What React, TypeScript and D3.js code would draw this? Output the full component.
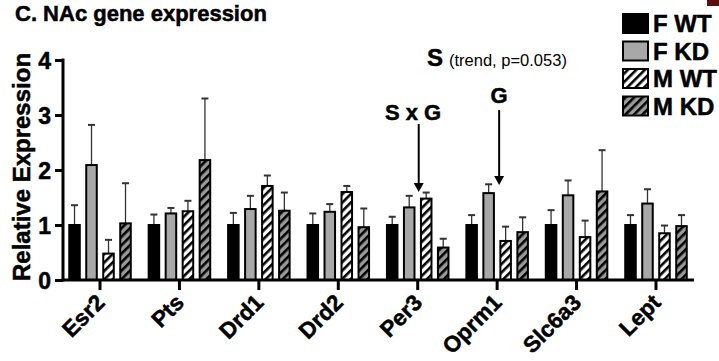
import React, { useEffect, useRef } from 'react';
import * as d3 from 'd3';

const genes = ['Esr2', 'Pts', 'Drd1', 'Drd2', 'Per3', 'Oprm1', 'Slc6a3', 'Lept'];
const groups = ['F WT', 'F KD', 'M WT', 'M KD'];

// mean and upper error bar end per group, in gene order
const fwtMean = [1.0, 1.0, 1.0, 1.0, 1.0, 1.0, 1.0, 1.0];
const fwtTop = [1.36, 1.19, 1.22, 1.21, 1.15, 1.18, 1.27, 1.18];
const fkdMean = [2.09, 1.21, 1.29, 1.24, 1.32, 1.58, 1.54, 1.39];
const fkdTop = [2.82, 1.31, 1.53, 1.38, 1.53, 1.74, 1.81, 1.65];
const mwtMean = [0.48, 1.25, 1.71, 1.6, 1.48, 0.71, 0.78, 0.85];
const mwtTop = [0.73, 1.44, 1.9, 1.71, 1.59, 0.97, 1.08, 0.99];
const mkdMean = [1.03, 2.18, 1.26, 0.96, 0.59, 0.87, 1.61, 0.98];
const mkdTop = [1.76, 3.3, 1.59, 1.3, 0.75, 1.14, 2.36, 1.18];

const yTicks = [0, 1, 2, 3, 4];

const FONT = '"Liberation Sans", Arial, Helvetica, sans-serif';

interface Cell {
  gene: string;
  group: string;
  mean: number;
  top: number;
}

const App: React.FC = () => {
  const svgRef = useRef<SVGSVGElement>(null);

  useEffect(() => {
    if (!svgRef.current) return;
    const svg = d3.select(svgRef.current);
    svg.selectAll('*').remove();

    const means = [fwtMean, fkdMean, mwtMean, mkdMean];
    const tops = [fwtTop, fkdTop, mwtTop, mkdTop];
    const cells: Cell[] = [];
    genes.forEach((g, i) => {
      groups.forEach((s, j) => {
        cells.push({ gene: g, group: s, mean: means[j][i], top: tops[j][i] });
      });
    });

    const x = d3.scaleBand<string>().domain(genes).range([60.3, 695.7]);
    const inner = d3.scaleBand<string>().domain(groups).range([-34, 34]).paddingInner(0.38).paddingOuter(0.19);
    const y = d3.scaleLinear().domain([0, 4]).range([280, 60]);

    // heavy bold look, like the original figure's font
    const heavy = (sel: d3.Selection<any, any, any, any>, size: number) =>
      sel.style('font-family', FONT)
        .style('font-weight', 'bold')
        .style('font-size', `${size}px`)
        .attr('fill', '#000')
        .attr('stroke', '#000')
        .attr('stroke-width', 0.5);

    // hatch patterns
    const defs = svg.append('defs');
    const hatch = (id: string, bg: string) => {
      const p = defs.append('pattern')
        .attr('id', id)
        .attr('patternUnits', 'userSpaceOnUse')
        .attr('width', 6)
        .attr('height', 6)
        .attr('patternTransform', 'rotate(45)');
      p.append('rect').attr('width', 6).attr('height', 6).attr('fill', bg);
      p.append('rect').attr('x', 0).attr('width', 2.6).attr('height', 6).attr('fill', '#000');
    };
    hatch('hatchW', '#fff');
    hatch('hatchG', '#9a9a9a');

    const fills: Record<string, string> = {
      'F WT': '#000',
      'F KD': '#a8a8a8',
      'M WT': 'url(#hatchW)',
      'M KD': 'url(#hatchG)',
    };

    // title
    heavy(svg.append('text').attr('x', 15).attr('y', 21).text('C. NAc gene expression'), 22);

    // dark mark at top right
    svg.append('rect').attr('x', 707).attr('y', 0).attr('width', 12).attr('height', 6).attr('fill', '#5c0d0d');

    // error bars
    const cx = (d: Cell) => (x(d.gene)! + x.bandwidth() / 2) + inner(d.group)! + inner.bandwidth() / 2;
    const eb = svg.append('g').attr('stroke', '#333').attr('stroke-width', 1.3);
    eb.selectAll('line.v').data(cells).enter().append('line')
      .attr('x1', cx).attr('x2', cx)
      .attr('y1', d => y(d.mean)).attr('y2', d => y(d.top));
    eb.selectAll('line.c').data(cells).enter().append('line')
      .attr('x1', d => cx(d) - 3.5).attr('x2', d => cx(d) + 3.5)
      .attr('y1', d => y(d.top)).attr('y2', d => y(d.top))
      .attr('stroke-width', 2);

    // bars
    svg.append('g').selectAll('rect').data(cells).enter().append('rect')
      .attr('x', d => cx(d) - inner.bandwidth() / 2)
      .attr('y', d => y(d.mean))
      .attr('width', inner.bandwidth())
      .attr('height', d => y(0) - y(d.mean))
      .attr('fill', d => fills[d.group])
      .attr('stroke', '#000')
      .attr('stroke-width', 2);

    // y axis
    const yAxis = svg.append('g')
      .attr('transform', 'translate(63,0)')
      .call(d3.axisLeft(y).tickValues(yTicks).tickFormat(d3.format('d')).tickSize(8).tickSizeOuter(0));
    yAxis.select('.domain').attr('stroke-width', 3).attr('d', `M0,${y(4) - 1.5}V${y(0) + 1.5}`);
    yAxis.selectAll('.tick line').attr('stroke-width', 3);
    heavy(yAxis.selectAll('.tick text').attr('x', -12).attr('dy', '0.36em'), 23);

    heavy(svg.append('text')
      .attr('transform', `translate(30,${(y(0) + y(4)) / 2 - 3}) rotate(-90)`)
      .attr('text-anchor', 'middle')
      .text('Relative Expression'), 24);

    // x axis
    const xAxis = svg.append('g')
      .attr('transform', `translate(0,${y(0)})`)
      .call(d3.axisBottom(x).tickSize(10).tickSizeOuter(0));
    xAxis.select('.domain').attr('stroke-width', 3).attr('d', 'M61.5,0H694');
    xAxis.selectAll('.tick line').attr('stroke-width', 3);
    heavy(xAxis.selectAll('.tick text')
      .attr('text-anchor', 'end')
      .attr('dy', 0)
      .attr('y', 0)
      .attr('transform', 'translate(6,24) rotate(-45)'), 22.5);

    // legend
    const lg = svg.append('g');
    groups.forEach((g, i) => {
      const yy = 14 + i * 27.5;
      lg.append('rect')
        .attr('x', 623).attr('y', yy)
        .attr('width', 25).attr('height', 19)
        .attr('fill', fills[g])
        .attr('stroke', '#000').attr('stroke-width', 2);
      heavy(lg.append('text').attr('x', 653).attr('y', yy + 18).text(g), 24);
    });

    // annotations
    const ann = svg.append('g');
    const sxgX = (x('Per3')! + x.bandwidth() / 2) + 1;
    const gX = (x('Oprm1')! + x.bandwidth() / 2) + 2;
    heavy(ann.append('text').attr('x', 413).attr('y', 120).attr('text-anchor', 'middle').text('S x G'), 22);
    heavy(ann.append('text').attr('x', 499).attr('y', 103).attr('text-anchor', 'middle').text('G'), 22);
    const sT = ann.append('text').attr('x', 427).attr('y', 66).style('font-family', FONT);
    heavy(sT.append('tspan').text('S'), 24);
    sT.append('tspan').attr('dx', 6).text('(trend, p=0.053)').style('font-size', '16.5px');

    const arrow = (ax: number, y1: number, y2: number) => {
      ann.append('line').attr('x1', ax).attr('x2', ax).attr('y1', y1).attr('y2', y2 - 8)
        .attr('stroke', '#000').attr('stroke-width', 2);
      ann.append('path')
        .attr('d', `M${ax - 5},${y2 - 9}L${ax + 5},${y2 - 9}L${ax},${y2}Z`)
        .attr('fill', '#000');
    };
    arrow(sxgX, 124, 192);
    arrow(gX, 110, 185);
  }, []);

  return (
    <div style={{ position: 'absolute', left: 0, top: 0 }}>
      <svg ref={svgRef} width={719} height={361} style={{ display: 'block', background: '#fff' }} />
    </div>
  );
};

export default App;
